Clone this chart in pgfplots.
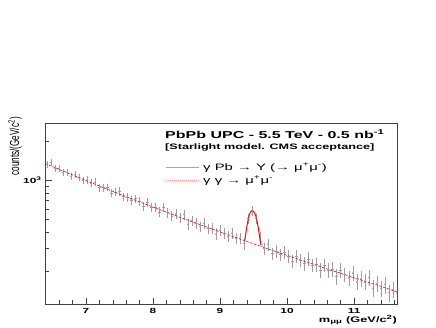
\documentclass[border=0pt]{standalone}
\usepackage{fontspec}
\setmainfont{Liberation Sans}[FakeStretch=1.6]
\newfontfamily\plainsf{Liberation Sans}
\usepackage{pgfplots}
\usepackage{pgfplotstable}
\pgfplotsset{compat=1.18}

\colorlet{histgray}{black!38}

% binned dimuon mass spectrum: m, counts, relative error
\pgfplotstableread{
m n e
6.42 1332 0.060
6.48 1371 0.060
6.54 1241 0.060
6.60 1239 0.060
6.66 1156 0.065
6.72 1157 0.065
6.78 1078 0.065
6.84 1111 0.065
6.90 1048 0.065
6.96 998 0.069
7.02 1008 0.065
7.08 950 0.069
7.14 970 0.069
7.20 878 0.069
7.26 880 0.069
7.32 882 0.069
7.38 798 0.074
7.44 816 0.074
7.50 825 0.074
7.56 749 0.074
7.62 742 0.074
7.68 701 0.074
7.74 724 0.074
7.80 690 0.080
7.86 632 0.080
7.92 673 0.080
7.98 623 0.080
8.04 624 0.080
8.10 573 0.087
8.16 616 0.080
8.22 565 0.087
8.28 534 0.087
8.34 552 0.087
8.40 516 0.087
8.46 544 0.087
8.52 460 0.093
8.58 491 0.087
8.64 469 0.093
8.70 440 0.093
8.76 468 0.093
8.82 425 0.093
8.88 428 0.093
8.94 388 0.100
9.00 414 0.093
9.06 392 0.100
9.12 371 0.100
9.18 394 0.100
9.24 359 0.100
9.30 361 0.100
9.36 328 0.107
9.42 509 0.087
9.48 583 0.080
9.54 510 0.087
9.60 366 0.100
9.66 298 0.107
9.72 321 0.107
9.78 273 0.113
9.84 286 0.113
9.90 268 0.113
9.96 282 0.113
10.02 260 0.113
10.08 239 0.121
10.14 260 0.113
10.20 244 0.121
10.26 229 0.121
10.32 249 0.121
10.38 223 0.121
10.44 226 0.121
10.50 204 0.129
10.56 223 0.121
10.62 205 0.129
10.68 208 0.129
10.74 182 0.138
10.80 205 0.129
10.86 189 0.129
10.92 178 0.138
10.98 194 0.129
11.04 166 0.138
11.10 175 0.138
11.16 166 0.138
11.22 180 0.138
11.28 149 0.147
11.34 162 0.138
11.40 148 0.147
11.46 158 0.147
11.52 137 0.147
11.58 145 0.147
11.64 139 0.147
}\spectrum

% gamma gamma -> mu mu continuum
\pgfplotstableread{
m n
6.39 1348
6.6 1215
6.8 1100
7.0 997
7.2 905
7.4 823
7.6 749
7.8 683
8.0 623
8.2 570
8.4 521
8.6 477
8.8 438
9.0 402
9.2 369
9.4 339
9.6 312
9.8 287
10.0 265
10.2 244
10.4 226
10.6 208
10.8 193
11.0 178
11.2 165
11.4 153
11.6 141
11.64 139
}\continuum

% Upsilon peak on top of the continuum
\pgfplotstableread{
m n
9.37 345
9.39 410
9.41 470
9.43 525
9.45 565
9.47 583
9.49 582
9.51 570
9.53 540
9.55 495
9.57 435
9.59 370
9.61 318
}\upsilon

\begin{document}
\begin{tikzpicture}
\useasboundingbox (0,0) rectangle (436pt,327pt);
\begin{axis}[
  at={(45pt,22.5pt)}, anchor=south west,
  scale only axis, width=352pt, height=181.5pt,
  ymode=log,
  xmin=6.39, xmax=11.64,
  ymin=111, ymax=2760,
  xtick={7,8,9,10,11},
  xticklabels={7,8,9,10,11},
  minor xtick={6.4,6.6,6.8,7.2,7.4,7.6,7.8,8.2,8.4,8.6,8.8,9.2,9.4,9.6,9.8,10.2,10.4,10.6,10.8,11.2,11.4,11.6},
  ytick={1000},
  yticklabels={10\textsuperscript{3}},
  minor ytick={200,300,400,500,600,700,800,900,2000},
  xtick pos=bottom, ytick pos=left,
  tick align=inside,
  major tick length=7pt, minor tick length=4pt,
  tick style={black!75, line width=0.4pt},
  axis line style={black!75, line width=0.5pt},
  tick label style={font=\bfseries\fontsize{7.4}{8}\selectfont},
  xlabel={m\textsubscript{μμ} (GeV/c\textsuperscript{2})},
  xlabel style={at={(axis description cs:1,0)}, anchor=base east,
                yshift=-18.2pt, inner sep=0pt,
                font=\bfseries\fontsize{8}{9}\selectfont},
  ylabel={\scalebox{1}[1.6]{\plainsf\fontsize{8.2}{9}\selectfont counts/(GeV/c\textsuperscript{2})}},
  ylabel style={at={(axis description cs:-0.0852,1.033)}, anchor=east,
                rotate=0, inner sep=0pt},
  legend style={at={(axis description cs:0.335,0.797)}, anchor=north west,
                draw=none, fill=none, row sep=3pt,
                font=\fontsize{9.3}{10}\selectfont,
                nodes={inner sep=0.5pt}},
  legend cell align=left,
  legend image code/.code={\draw[#1] (0pt,0pt) -- (33pt,0pt);},
]
\addplot[only marks, mark=*, mark size=0.25pt, histgray, forget plot,
         error bars/.cd, y dir=both, y explicit relative, x dir=both, x fixed=0.018,
         error mark=none, error bar style={histgray, line width=0.45pt}]
  table[x=m, y=n, y error=e] {\spectrum};
\addplot[red, line width=0.6pt, dash pattern=on 2.5pt off 1.5pt, forget plot]
  table[x=m, y=n] {\continuum};
\addplot[red, line width=1pt, forget plot] table[x=m, y=n] {\upsilon};

\addlegendimage{red!50, line width=0.5pt}
\addlegendentry{\hspace{3pt}γ Pb → Υ (→ μ\textsuperscript{+}μ\textsuperscript{-})}
\addlegendimage{red!40, line width=0.6pt, dash pattern=on 1pt off 1pt}
\addlegendentry{\hspace{3pt}γ γ → μ\textsuperscript{+}μ\textsuperscript{-}}
\end{axis}
\node[anchor=base west, inner sep=0pt, font=\bfseries\fontsize{10}{12}\selectfont]
  at (165pt,188.7pt) {PbPb UPC - 5.5 TeV - 0.5 nb\textsuperscript{-1}};
\node[anchor=base west, inner sep=0pt, font=\bfseries\fontsize{7.9}{9}\selectfont]
  at (165pt,177.7pt) {[Starlight model. CMS acceptance]};
\end{tikzpicture}
\end{document}
